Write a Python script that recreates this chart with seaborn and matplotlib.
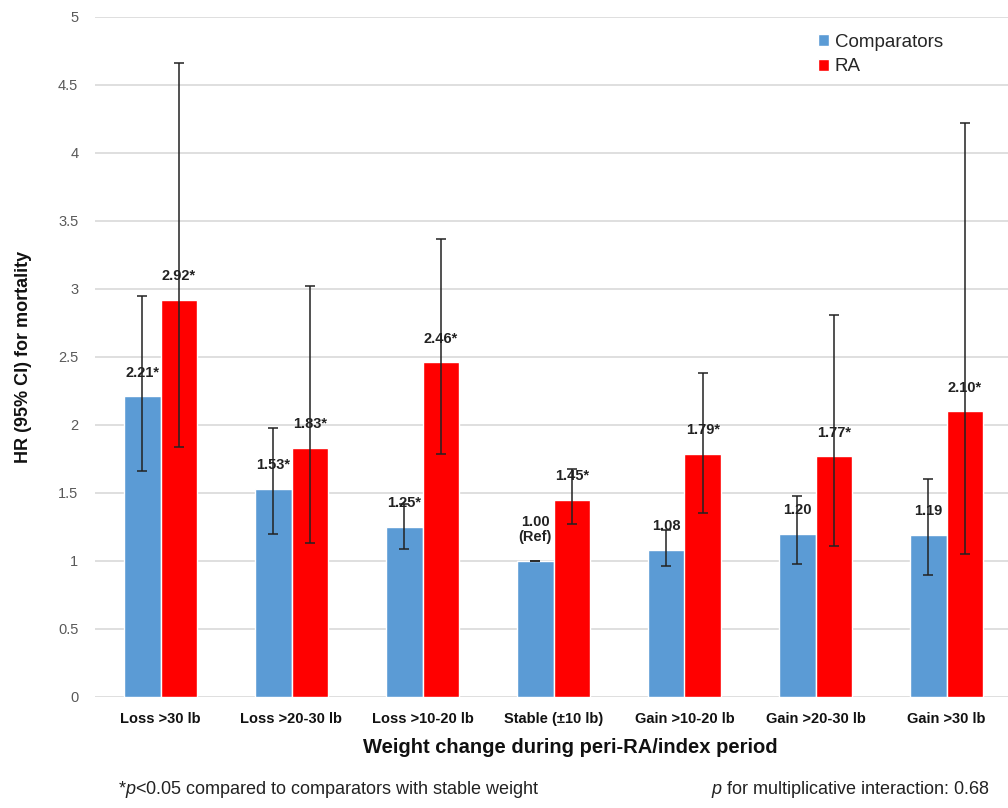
import numpy as np
import pandas as pd
import matplotlib
matplotlib.use("Agg")
import matplotlib.pyplot as plt
import seaborn as sns

categories = ["Loss >30 lb", "Loss >20-30 lb", "Loss >10-20 lb", "Stable (\u00b110 lb)",
              "Gain >10-20 lb", "Gain >20-30 lb", "Gain >30 lb"]
groups = ["Comparators", "RA"]

comp_hr = [2.21, 1.53, 1.25, 1.00, 1.08, 1.20, 1.19]
comp_lo = [1.66, 1.20, 1.09, 1.00, 0.96, 0.98, 0.90]
comp_hi = [2.95, 1.98, 1.42, 1.00, 1.23, 1.48, 1.60]
comp_lab = ["2.21*", "1.53*", "1.25*", "1.00\n(Ref)", "1.08", "1.20", "1.19"]

ra_hr = [2.92, 1.83, 2.46, 1.45, 1.79, 1.77, 2.10]
ra_lo = [1.84, 1.13, 1.79, 1.27, 1.35, 1.11, 1.05]
ra_hi = [4.66, 3.02, 3.37, 1.68, 2.38, 2.81, 4.22]
ra_lab = ["2.92*", "1.83*", "2.46*", "1.45*", "1.79*", "1.77*", "2.10*"]

yticks = [0, 0.5, 1, 1.5, 2, 2.5, 3, 3.5, 4, 4.5, 5]
ytick_labels = ["0", "0.5", "1", "1.5", "2", "2.5", "3", "3.5", "4", "4.5", "5"]

df = pd.DataFrame({
    "cat": categories * 2,
    "group": ["Comparators"] * 7 + ["RA"] * 7,
    "hr": comp_hr + ra_hr,
})

sns.set_style("white")
plt.rcParams["font.family"] = ["Liberation Sans", "DejaVu Sans"]
plt.rcParams["mathtext.fontset"] = "custom"
plt.rcParams["mathtext.rm"] = "Liberation Sans"
plt.rcParams["mathtext.it"] = "Liberation Sans:italic"

fig = plt.figure(figsize=(10.08, 8.08), dpi=100)
ax = fig.add_axes([95 / 1008, 111 / 808, 917 / 1008, 680 / 808])

sns.barplot(data=df, x="cat", y="hr", hue="group", hue_order=groups,
            palette={"Comparators": "#5B9BD5", "RA": "#FF0000"},
            width=0.56, gap=0, saturation=1, errorbar=None, ax=ax, zorder=2)

# error bars and value labels
for cont, hr, lo, hi, labs in zip(ax.containers, [comp_hr, ra_hr], [comp_lo, ra_lo],
                                  [comp_hi, ra_hi], [comp_lab, ra_lab]):
    xs = [b.get_x() + b.get_width() / 2 for b in cont]
    yerr = [np.array(hr) - np.array(lo), np.array(hi) - np.array(hr)]
    ax.errorbar(xs, hr, yerr=yerr, fmt="none", ecolor="#222222", elinewidth=1.1,
                capsize=3.5, capthick=1.1, zorder=4)
    for x, h, t in zip(xs, hr, labs):
        ax.annotate(t, (x, h), xytext=(0, 12), textcoords="offset points",
                    ha="center", va="bottom", fontsize=10.5, fontweight="bold",
                    color="#222222", linespacing=1.1, zorder=5)

ax.set_ylim(0, 5)
ax.set_xlim(-0.5, 6.5)
ax.set_yticks(yticks)
ax.set_yticklabels(ytick_labels, fontsize=10.5, color="#595959")
ax.yaxis.grid(True, color="#d9d9d9", linewidth=1.2, zorder=0)
ax.set_axisbelow(True)
ax.tick_params(axis="both", length=0)
ax.tick_params(axis="y", pad=12)
for sp in ax.spines.values():
    sp.set_visible(False)

ax.set_xticks(range(len(categories)))
ax.set_xticklabels(categories, fontsize=10.5, fontweight="bold", color="#111111")
ax.tick_params(axis="x", pad=11)

ax.set_xlabel("Weight change during peri-RA/index period", fontsize=14.5, fontweight="bold",
              color="#111111")
ax.xaxis.set_label_coords(0.518, -0.06)
ax.set_ylabel("HR (95% CI) for mortality", fontsize=13, fontweight="bold", labelpad=19,
              color="#111111")

ax.legend(loc="upper left", bbox_to_anchor=(0.77, 1.0), frameon=False,
          fontsize=13.5, handlelength=0.6, handleheight=0.6, handletextpad=0.3,
          labelspacing=0.4)

fig.text(118 / 1008, 8 / 808, "*$\\mathit{p}$<0.05 compared to comparators with stable weight",
         fontsize=13, color="#222222", ha="left", va="bottom")
fig.text(990 / 1008, 8 / 808, "$\\mathit{p}$ for multiplicative interaction: 0.68",
         fontsize=13, color="#222222", ha="right", va="bottom")

fig.savefig("out.png", dpi=100)
